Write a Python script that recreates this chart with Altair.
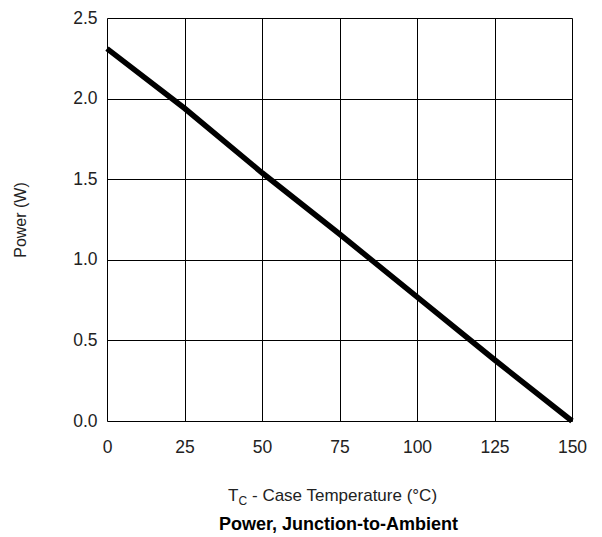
import altair as alt
import pandas as pd

# data
temps = [0, 25, 50, 75, 100, 125, 150]
power = [2.31, 1.94, 1.54, 1.16, 0.77, 0.38, 0.0]

x_ticks = [0, 25, 50, 75, 100, 125, 150]
y_ticks = [0.0, 0.5, 1.0, 1.5, 2.0, 2.5]

y_title = "Power (W)"
x_title_main = "T"
x_title_sub = "C"
x_title_rest = "- Case Temperature (°C)"
chart_title = "Power, Junction-to-Ambient"

FONT = "Liberation Sans"
W, H = 465, 403

df = pd.DataFrame({"temp": temps, "power": power})

line = alt.Chart(df).mark_line(color="black", strokeWidth=5.5).encode(
    x=alt.X(
        "temp:Q",
        scale=alt.Scale(domain=[0, 150], nice=False),
        axis=alt.Axis(
            values=x_ticks,
            title=None,
            grid=True,
            gridColor="black",
            gridOpacity=1,
            gridWidth=1,
            ticks=False,
            domain=False,
            labelFontSize=17.5,
            labelFont=FONT,
            labelColor="#222",
            labelPadding=17,
            labelFlush=False,
        ),
    ),
    y=alt.Y(
        "power:Q",
        scale=alt.Scale(domain=[0, 2.5], nice=False),
        axis=alt.Axis(
            values=y_ticks,
            format=".1f",
            title=y_title,
            titleFont=FONT,
            titleFontSize=16,
            titleFontWeight="normal",
            titleColor="#222",
            titleAngle=-90,
            titleX=-87,
            titleY=H / 2,
            titleAlign="center",
            titleBaseline="middle",
            grid=True,
            gridColor="black",
            gridOpacity=1,
            gridWidth=1,
            ticks=False,
            domain=False,
            labelFontSize=17.5,
            labelFont=FONT,
            labelColor="#222",
            labelPadding=10,
            labelFlush=False,
        ),
    ),
)

one = pd.DataFrame({"k": [0]})

t_main = alt.Chart(one).mark_text(
    text=x_title_main, font=FONT, fontSize=17, align="left", baseline="alphabetic", color="#222"
).encode(x=alt.value(121), y=alt.value(483))

t_sub = alt.Chart(one).mark_text(
    text=x_title_sub, font=FONT, fontSize=12, align="left", baseline="alphabetic", color="#222"
).encode(x=alt.value(131.5), y=alt.value(487))

t_rest = alt.Chart(one).mark_text(
    text=x_title_rest, font=FONT, fontSize=17, align="left", baseline="alphabetic", color="#222"
).encode(x=alt.value(145), y=alt.value(483))

t_title = alt.Chart(one).mark_text(
    text=chart_title, font=FONT, fontSize=18, fontWeight="bold", align="center",
    baseline="alphabetic", color="black"
).encode(x=alt.value(W / 2 - 1), y=alt.value(512))

chart = alt.layer(line, t_main, t_sub, t_rest, t_title).properties(
    width=W,
    height=H,
    autosize=alt.AutoSizeParams(type="none"),
    padding={"left": 99, "top": 10, "right": 22, "bottom": 114},
).configure_view(
    stroke="black", strokeWidth=1.5
).configure(background="white")

chart.save("out.html", embed_options={"renderer": "svg", "actions": False})
